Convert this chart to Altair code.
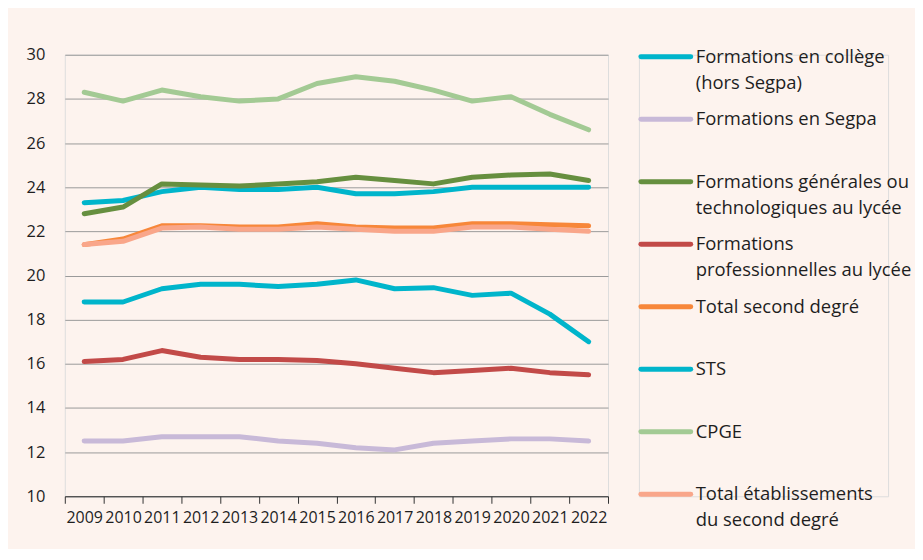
import altair as alt
import pandas as pd

years = list(range(2009, 2023))

series_names = [
    "Formations en collège (hors Segpa)",
    "Formations en Segpa",
    "Formations générales ou technologiques au lycée",
    "Formations professionnelles au lycée",
    "Total second degré",
    "STS",
    "CPGE",
    "Total établissements du second degré",
]
legend_labels = [
    "Formations en collège\n(hors Segpa)",
    "Formations en Segpa",
    "Formations générales ou\ntechnologiques au lycée",
    "Formations\nprofessionnelles au lycée",
    "Total second degré",
    "STS",
    "CPGE",
    "Total établissements\ndu second degré",
]
colors = ["#00b5cb", "#c8b9d8", "#668f3f", "#c24a48", "#f7873a", "#00b5cb", "#a3ca94", "#f9a68a"]

college = [23.3, 23.4, 23.8, 24.0, 23.9, 23.9, 24.0, 23.7, 23.7, 23.8, 24.0, 24.0, 24.0, 24.0]
segpa = [12.5, 12.5, 12.7, 12.7, 12.7, 12.5, 12.4, 12.2, 12.1, 12.4, 12.5, 12.6, 12.6, 12.5]
gen_tech = [22.8, 23.1, 24.15, 24.1, 24.05, 24.15, 24.25, 24.45, 24.3, 24.15, 24.45, 24.55, 24.6, 24.3]
pro = [16.1, 16.2, 16.6, 16.3, 16.2, 16.2, 16.15, 16.0, 15.8, 15.6, 15.7, 15.8, 15.6, 15.5]
total_sd = [21.4, 21.65, 22.25, 22.25, 22.2, 22.2, 22.35, 22.2, 22.15, 22.15, 22.35, 22.35, 22.3, 22.25]
sts = [18.8, 18.8, 19.4, 19.6, 19.6, 19.5, 19.6, 19.8, 19.4, 19.45, 19.1, 19.2, 18.25, 17.0]
cpge = [28.3, 27.9, 28.4, 28.1, 27.9, 28.0, 28.7, 29.0, 28.8, 28.4, 27.9, 28.1, 27.3, 26.6]
total_etab = [21.4, 21.55, 22.15, 22.2, 22.1, 22.1, 22.2, 22.1, 22.0, 22.0, 22.2, 22.2, 22.1, 22.0]

all_values = [college, segpa, gen_tech, pro, total_sd, sts, cpge, total_etab]

rows = []
for i, (name, vals) in enumerate(zip(series_names, all_values)):
    for y, v in zip(years, vals):
        rows.append({"series": name, "year": str(y), "value": v, "k": i})
df = pd.DataFrame(rows)

FONT = "Open Sans"
color_scale = alt.Scale(domain=series_names, range=colors)

main = alt.Chart(df).mark_line(strokeWidth=5, strokeCap="round", strokeJoin="round").encode(
    x=alt.X(
        "year:O",
        title=None,
        scale=alt.Scale(type="band", paddingInner=0, paddingOuter=0),
        bandPosition=0.5,
        axis=alt.Axis(
            tickBand="extent", labelAngle=0, domainColor="#333333", tickColor="#333333",
            tickSize=7, labelFontSize=16, labelColor="#1e1e1e", labelPadding=6, grid=False,
            labelFont=FONT,
        ),
    ),
    y=alt.Y(
        "value:Q",
        title=None,
        scale=alt.Scale(domain=[10, 30], nice=False, zero=False),
        axis=alt.Axis(
            values=list(range(10, 31, 2)), domain=False, ticks=False, gridColor="#9a9a9a",
            gridWidth=1, labelPadding=20, labelFontSize=16.5, labelColor="#1e1e1e", labelFont=FONT,
        ),
    ),
    color=alt.Color("series:N", scale=color_scale, legend=None, sort=series_names),
    detail="k:O",
).properties(width=545, height=443)

leg_df = pd.DataFrame({"series": series_names, "label": legend_labels})
ybase = alt.Y("series:N", sort=series_names, axis=None, scale=alt.Scale(type="point", padding=0.033))
rules = alt.Chart(leg_df).mark_rule(strokeWidth=5, strokeCap="round").encode(
    x=alt.value(2), x2=alt.value(52), y=ybase,
    color=alt.Color("series:N", scale=color_scale, legend=None),
)
texts = alt.Chart(leg_df).mark_text(
    align="left", baseline="alphabetic", dy=6, lineBreak="\n", lineHeight=26,
    font=FONT, fontSize=18.5, color="#1e1e1e",
).encode(x=alt.value(57), y=ybase, text="label:N")
legend = alt.layer(rules, texts).properties(width=250, height=443)

chart = alt.hconcat(main, legend, spacing=29).configure_view(stroke=None).configure(
    background="#fdf3ee",
    padding={"left": 17, "top": 37, "right": 3, "bottom": 18},
    font=FONT,
)

chart.save("out.html", embed_options={"renderer": "svg", "actions": False})
